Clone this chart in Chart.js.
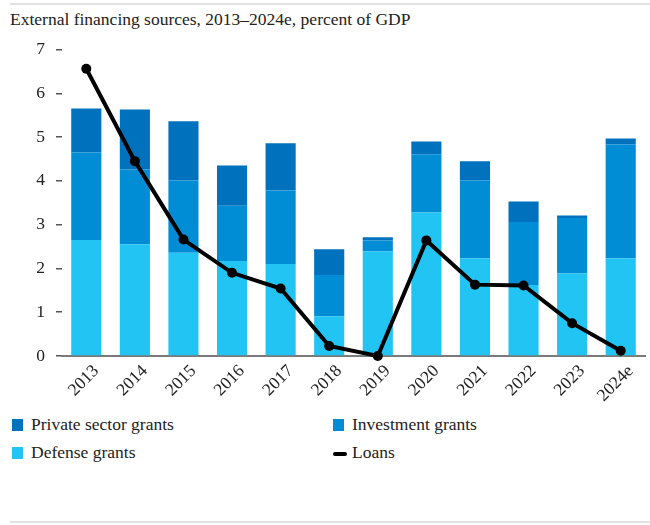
<!DOCTYPE html>
<html>
<head>
<meta charset="utf-8">
<script src="https://cdn.jsdelivr.net/npm/chart.js@4/dist/chart.umd.min.js"></script>
<style>
  body { margin: 0; background: #fff; font-family: "Liberation Serif", serif; color: #222; }
  .page { position: relative; width: 650px; height: 525px; overflow: hidden; }
  .rule { position: absolute; left: 10px; right: 0; height: 2px; background: #e2e2e2; }
  .rule.top { top: 3px; }
  .rule.bottom { top: 521px; }
  .title { position: absolute; left: 10px; top: 9px; font-size: 17.5px; white-space: nowrap; }
  .plot { position: absolute; left: 0; top: 28px; width: 650px; height: 382px; }
  .legend { position: absolute; left: 0; top: 0; width: 650px; font-size: 17.5px; }
  .item { position: absolute; white-space: nowrap; }
  .swatch { position: absolute; left: 0; top: 5px; width: 11px; height: 12px; }
  .swatch.line { top: 10px; width: 14px; height: 4px; border-radius: 2px; background: #000; }
  .item span { position: absolute; left: 19px; top: 0; }
</style>
</head>
<body>
<div class="page">
  <div class="rule top"></div>
  <div class="title">External financing sources, 2013–2024e, percent of GDP</div>
  <div class="plot"><canvas id="chart" width="650" height="382"></canvas></div>
  <div class="legend" id="legend"></div>
  <div class="rule bottom"></div>
</div>
<script>
// categories
const years = ['2013', '2014', '2015', '2016', '2017', '2018', '2019', '2020', '2021', '2022', '2023', '2024e'];

// stacked grant components, percent of GDP
const defenseGrants    = [2.65, 2.55, 2.36, 2.17, 2.10, 0.91, 2.39, 3.28, 2.23, 1.62, 1.89, 2.23];
const investmentGrants = [2.00, 1.71, 1.65, 1.26, 1.68, 0.94, 0.25, 1.33, 1.78, 1.44, 1.26, 2.60];
const privateGrants    = [1.00, 1.37, 1.35, 0.92, 1.08, 0.59, 0.07, 0.29, 0.44, 0.47, 0.06, 0.14];

// loans, drawn as a line over the bars
const loans = [6.56, 4.45, 2.66, 1.90, 1.54, 0.23, 0.00, 2.64, 1.63, 1.61, 0.75, 0.12];

const yTicks = [0, 1, 2, 3, 4, 5, 6, 7];

const COLORS = {
  defense: '#21c4f3',
  investment: '#008dd5',
  privateSector: '#0071bc',
  loans: '#000000'
};

const FONT = '"Liberation Serif", serif';

function barSet(label, data, color) {
  return {
    type: 'bar',
    label: label,
    data: data,
    backgroundColor: color,
    borderWidth: 0,
    stack: 'grants',
    order: 1,
    barPercentage: 0.62,
    categoryPercentage: 1.0
  };
}

const ctx = document.getElementById('chart');

new Chart(ctx, {
  data: {
    labels: years,
    datasets: [
      {
        type: 'line',
        label: 'Loans',
        data: loans,
        borderColor: COLORS.loans,
        backgroundColor: COLORS.loans,
        borderWidth: 4,
        pointRadius: 5,
        pointBorderWidth: 0,
        pointBackgroundColor: COLORS.loans,
        tension: 0,
        stack: 'loans',
        order: 0,
        clip: false
      },
      barSet('Defense grants', defenseGrants, COLORS.defense),
      barSet('Investment grants', investmentGrants, COLORS.investment),
      barSet('Private sector grants', privateGrants, COLORS.privateSector)
    ]
  },
  options: {
    responsive: false,
    animation: false,
    layout: { padding: { top: 6, right: 4, left: 0, bottom: 0 } },
    scales: {
      x: {
        stacked: true,
        grid: { display: true, drawOnChartArea: false, drawTicks: false, color: 'rgba(0,0,0,0)' },
        border: { display: true, color: '#7a7a7a', width: 2 },
        ticks: {
          minRotation: 45,
          maxRotation: 45,
          padding: 5,
          labelOffset: 10,
          color: '#222',
          font: { family: FONT, size: 17.5 }
        },
        afterFit: function (scale) { scale.height = 54; }
      },
      y: {
        stacked: true,
        min: 0,
        max: 7,
        afterBuildTicks: function (scale) {
          scale.ticks = yTicks.map(function (v) { return { value: v }; });
        },
        grid: { drawOnChartArea: false, drawTicks: true, tickLength: 6, color: '#555', lineWidth: 1.5 },
        border: { display: false },
        ticks: {
          padding: 11,
          color: '#222',
          font: { family: FONT, size: 17.5 }
        },
        afterFit: function (scale) { scale.width = 62; }
      }
    },
    plugins: {
      legend: { display: false },
      tooltip: { enabled: false }
    }
  }
});

// two-column legend under the plot
const legendItems = [
  { label: 'Private sector grants', color: COLORS.privateSector, x: 12, y: 414 },
  { label: 'Investment grants', color: COLORS.investment, x: 333, y: 414 },
  { label: 'Defense grants', color: COLORS.defense, x: 12, y: 442 },
  { label: 'Loans', color: COLORS.loans, x: 333, y: 442, line: true }
];
const legendEl = document.getElementById('legend');
legendItems.forEach(function (it) {
  const item = document.createElement('div');
  item.className = 'item';
  item.style.left = it.x + 'px';
  item.style.top = it.y + 'px';
  const sw = document.createElement('div');
  sw.className = it.line ? 'swatch line' : 'swatch';
  sw.style.background = it.color;
  const txt = document.createElement('span');
  txt.textContent = it.label;
  item.appendChild(sw);
  item.appendChild(txt);
  legendEl.appendChild(item);
});
</script>
</body>
</html>
